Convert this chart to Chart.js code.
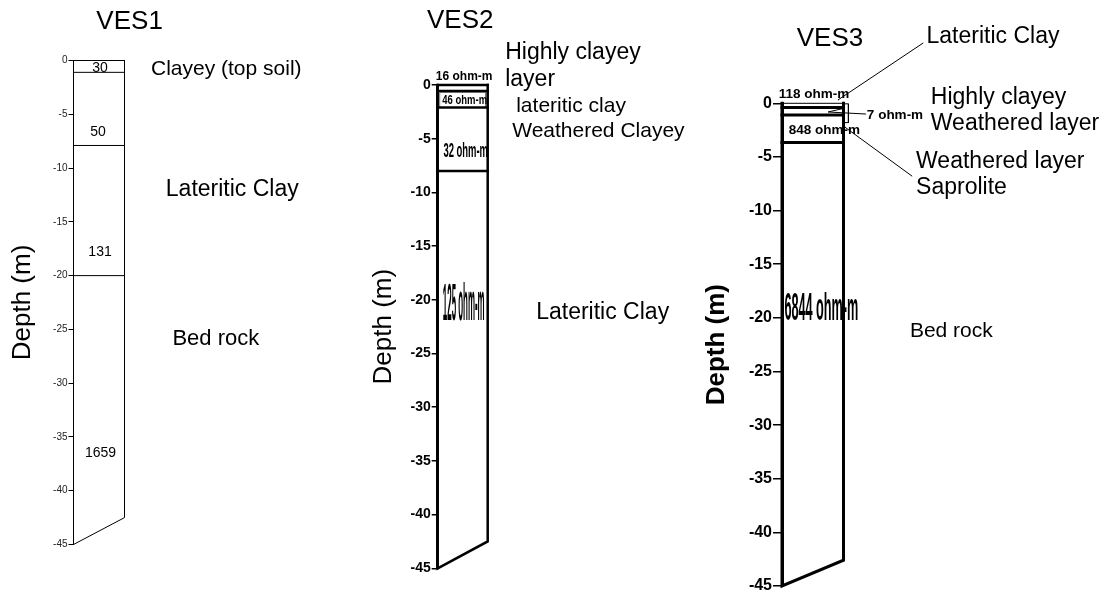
<!DOCTYPE html>
<html>
<head>
<meta charset="utf-8">
<title>VES resistivity sections</title>
<script src="https://cdn.jsdelivr.net/npm/chart.js@4.4.1/dist/chart.umd.min.js"></script>
<style>
  html, body { margin: 0; padding: 0; background: #fff; width: 1105px; height: 594px; overflow: hidden; }
  canvas { position: absolute; left: 0; top: 0; }
</style>
</head>
<body>
<canvas id="ves1" width="1105" height="640"></canvas>
<canvas id="ves2" width="1105" height="640"></canvas>
<canvas id="ves3" width="1105" height="640"></canvas>
<script>
// ---------- data ----------
const depthTicks = [0, -5, -10, -15, -20, -25, -30, -35, -40, -45];

// VES1
const ves1Boundaries = [-1.1, -7.9, -20];          // layer interfaces (m)
const ves1Base = [-45, -42.5];                      // column base, left / right side (m)
const ves1Resistivity = ['30', '50', '131', '1659'];
const ves1Layers = ['Clayey (top soil)', 'Lateritic Clay', 'Bed rock'];

// VES2
const ves2Boundaries = [-0.55, -2.1, -8.0];
const ves2Inner = [-0.68, -2.1];                    // thin inner box of the 46 ohm-m layer
const ves2Base = [-45, -42.5];
const ves2Resistivity = ['16 ohm-m', '46 ohm-m', '32 ohm-m', '125 ohm-m'];
const ves2Layers = ['Highly clayey', 'layer', 'lateritic clay', 'Weathered Clayey', 'Lateritic Clay'];

// VES3
const ves3Boundaries = [-0.4, -1.1, -3.65];
const ves3Base = [-45, -42.6];
const ves3Resistivity = ['118 ohm-m', '7 ohm-m', '848 ohm-m', '6844 ohm-m'];
const ves3Layers = ['Lateritic Clay', 'Highly clayey', 'Weathered layer', 'Weathered layer', 'Saprolite', 'Bed rock'];

// ---------- drawing ----------
const FAMILY = "'Liberation Sans', Arial, Helvetica, sans-serif";
const f = (size, weight) => (weight ? weight + ' ' : '') + size + 'px ' + FAMILY;

// draws the panel's text items at (column-width, depth) positions through the chart scales
function textPlugin(items) {
  return {
    id: 'panelText',
    afterDatasetsDraw(chart) {
      const { ctx, scales: { x, y } } = chart;
      items.forEach(it => {
        const px = x.getPixelForValue(it.at[0]);
        const py = y.getPixelForValue(it.at[1]);
        ctx.save();
        ctx.font = it.font;
        ctx.fillStyle = it.color || '#000';
        ctx.textAlign = it.align || 'left';
        ctx.textBaseline = 'middle';
        ctx.translate(px, py);
        if (it.sx) ctx.scale(it.sx, 1);
        ctx.fillText(it.text, 0, 0);
        ctx.restore();
      });
    }
  };
}

function pts(arr) { return arr.map(p => ({ x: p[0], y: p[1] })); }

function makePanel(id, cfg) {
  const datasets = [];
  const line = (p, w, color) => datasets.push({
    data: pts(p), showLine: true, borderColor: color || '#000', borderWidth: w,
    pointRadius: 0, pointHoverRadius: 0, clip: false, fill: false, tension: 0,
    borderJoinStyle: 'miter', borderCapStyle: 'square'
  });
  // column sides and slanted base
  line([[0, 0], [0, cfg.base[0]], [1, cfg.base[1]], [1, 0]], cfg.edgeWidth);
  // ground surface
  line([[0, 0], [1, 0]], cfg.topWidth, cfg.topColor);
  // layer interfaces
  cfg.boundaries.forEach(d => line([[0, d], [1, d]], cfg.boundaryWidth));
  (cfg.extra || []).forEach(e => line(e.p, e.w, e.color));

  new Chart(document.getElementById(id), {
    type: 'scatter',
    data: { datasets },
    options: {
      responsive: false,
      animation: false,
      events: [],
      layout: { padding: cfg.padding },
      plugins: { legend: { display: false }, tooltip: { enabled: false } },
      scales: {
        x: { type: 'linear', min: 0, max: 1, display: false },
        y: {
          type: 'linear', min: -45, max: 0,
          afterBuildTicks: s => { s.ticks = depthTicks.map(v => ({ value: v })); },
          afterFit: s => { s.width = cfg.axisWidth; },
          ticks: { font: cfg.tickFont, color: cfg.tickColor, padding: cfg.tickPad, callback: v => String(v) },
          grid: { drawOnChartArea: false, drawTicks: true, tickLength: cfg.tickLen, color: '#000', lineWidth: cfg.tickWidth },
          border: { display: true, color: '#000', width: cfg.edgeWidth },
          title: { display: true, text: 'Depth (m)', color: '#000', font: cfg.titleFont, padding: { top: cfg.titlePad, bottom: 0 } }
        }
      }
    },
    plugins: [textPlugin(cfg.texts)]
  });
}

const H = 640, W = 1105;

// VES1
makePanel('ves1', {
  base: ves1Base, boundaries: ves1Boundaries,
  edgeWidth: 1, topWidth: 1, boundaryWidth: 1,
  padding: { left: 3, right: W - 124.5, top: 60.5, bottom: H - 544.5 },
  axisWidth: 70.5,
  tickFont: { family: FAMILY, size: 10 }, tickColor: '#222', tickPad: 1, tickLen: 5, tickWidth: 1,
  titleFont: { family: FAMILY, size: 26 }, titlePad: 4,
  texts: [
    { text: 'VES1', at: [1.1, 3.6], font: f(26), align: 'center' },
    { text: ves1Resistivity[0], at: [0.52, -0.69], font: f(14), align: 'center' },
    { text: ves1Resistivity[1], at: [0.48, -6.66], font: f(14), align: 'center' },
    { text: ves1Resistivity[2], at: [0.52, -17.8], font: f(14), align: 'center' },
    { text: ves1Resistivity[3], at: [0.53, -36.5], font: f(14), align: 'center' },
    { text: ves1Layers[0], at: [1.52, -0.85], font: f(21) },
    { text: ves1Layers[1], at: [1.81, -12.0], font: f(23) },
    { text: ves1Layers[2], at: [1.94, -25.85], font: f(22) }
  ]
});

// VES2
makePanel('ves2', {
  base: ves2Base, boundaries: ves2Boundaries,
  edgeWidth: 2.5, topWidth: 2.5, boundaryWidth: 2.5,
  extra: [
    { p: [[0.04, ves2Inner[1]], [0.04, ves2Inner[0]], [0.96, ves2Inner[0]], [0.96, ves2Inner[1]]], w: 1, color: '#777' }
  ],
  padding: { left: 364.4, right: W - 487.7, top: 85, bottom: H - 568.3 },
  axisWidth: 73.3,
  tickFont: { family: FAMILY, size: 14, weight: 'bold' }, tickColor: '#000', tickPad: 1, tickLen: 6, tickWidth: 1.5,
  titleFont: { family: FAMILY, size: 26 }, titlePad: 4,
  texts: [
    { text: 'VES2', at: [0.45, 5.95], font: f(26), align: 'center' },
    { text: ves2Resistivity[0], at: [0.53, 0.77], font: f(12, 'bold'), align: 'center' },
    { text: ves2Resistivity[1], at: [0.54, -1.4], font: f(13, 'bold'), align: 'center', sx: 0.73 },
    { text: ves2Resistivity[2], at: [0.56, -6.15], font: f(21, 'bold'), align: 'center', sx: 0.45 },
    { text: ves2Resistivity[3], at: [0.52, -20.6], font: f(51, 'bold'), align: 'center', sx: 0.155 },
    { text: ves2Layers[0], at: [1.35, 2.98], font: f(23) },
    { text: ves2Layers[1], at: [1.35, 0.46], font: f(23) },
    { text: ves2Layers[2], at: [1.57, -2.0], font: f(21) },
    { text: ves2Layers[3], at: [1.49, -4.33], font: f(21) },
    { text: ves2Layers[4], at: [1.97, -21.18], font: f(23) }
  ]
});

// VES3
makePanel('ves3', {
  base: ves3Base, boundaries: ves3Boundaries,
  edgeWidth: 3, topWidth: 1, boundaryWidth: 3,
  extra: [
    // callout box and leader lines
    { p: [[1.0, -0.05], [1.08, -0.05], [1.08, -1.8], [1.0, -1.8]], w: 1 },
    { p: [[0.91, 0.31], [2.29, 5.6]], w: 1 },
    { p: [[1.36, -1.0], [0.75, -0.81], [0.99, -0.49]], w: 1 },
    { p: [[1.02, -2.21], [2.11, -6.77]], w: 1 }
  ],
  padding: { left: 697.1, right: W - 843.5, top: 103.3, bottom: H - 586 },
  axisWidth: 84.9,
  tickFont: { family: FAMILY, size: 16, weight: 'bold' }, tickColor: '#000', tickPad: 1, tickLen: 9, tickWidth: 1.5,
  titleFont: { family: FAMILY, size: 26, weight: 'bold' }, titlePad: 4,
  texts: [
    { text: 'VES3', at: [0.78, 6.0], font: f(26), align: 'center' },
    { text: ves3Resistivity[0], at: [0.52, 0.87], font: f(13.5, 'bold'), align: 'center' },
    { text: ves3Resistivity[1], at: [1.38, -1.09], font: f(13.5, 'bold') },
    { text: ves3Resistivity[2], at: [0.69, -2.5], font: f(13.5, 'bold'), align: 'center' },
    { text: ves3Resistivity[3], at: [0.64, -19.2], font: f(39, 'bold'), align: 'center', sx: 0.325 },
    { text: ves3Layers[0], at: [2.35, 6.19], font: f(23) },
    { text: ves3Layers[1], at: [2.42, 0.5], font: f(23) },
    { text: ves3Layers[2], at: [2.42, -1.92], font: f(23) },
    { text: ves3Layers[3], at: [2.18, -5.47], font: f(23) },
    { text: ves3Layers[4], at: [2.18, -7.89], font: f(23) },
    { text: ves3Layers[5], at: [2.08, -21.28], font: f(21) }
  ]
});
</script>
</body>
</html>
